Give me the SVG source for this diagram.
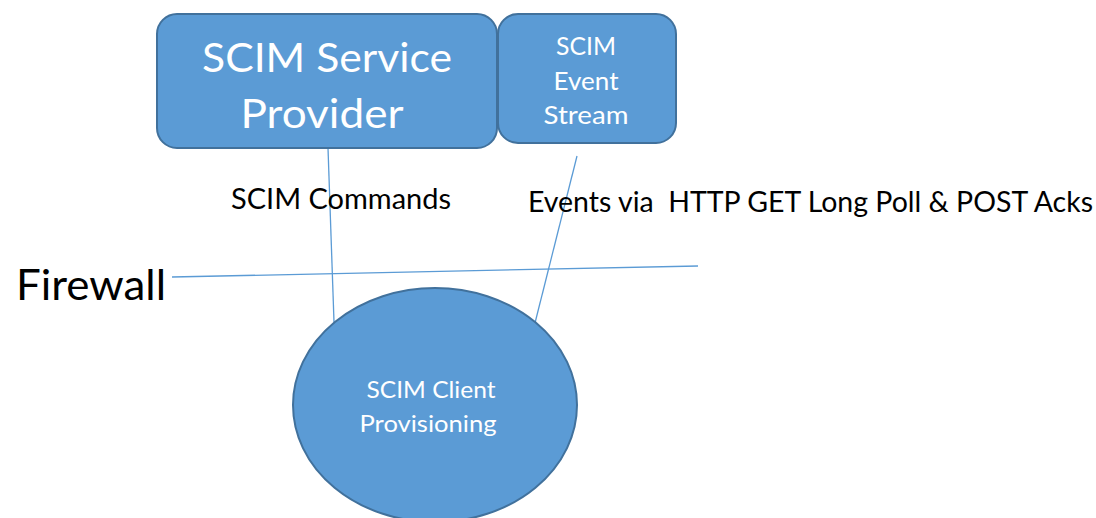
<svg xmlns="http://www.w3.org/2000/svg" width="1096" height="518" viewBox="0 0 1096 518">
<style>
.node{fill:#5B9BD5;stroke:#41719C;stroke-width:2}
.wt{fill:#FFFFFF;font-family:Lato,"Open Sans",sans-serif;text-anchor:middle}
.bt{fill:#000000;font-family:Lato,"Open Sans",sans-serif}
.conn{stroke:#5B9BD5;stroke-width:1.3;fill:none}
</style>
<rect width="1096" height="518" fill="#FFFFFF"/>
<g id="connectors">
<line class="conn" x1="328" y1="148" x2="334" y2="322"/>
<line class="conn" x1="577" y1="156" x2="535" y2="323"/>
<line class="conn" x1="172" y1="277" x2="698" y2="266"/>
</g>
<g id="service-provider">
<rect class="node" x="157" y="14" width="340" height="134" rx="20"/>
<text class="wt" x="327" y="72" font-size="41" textLength="250" lengthAdjust="spacingAndGlyphs">SCIM Service</text>
<text class="wt" x="322" y="128" font-size="41" textLength="163" lengthAdjust="spacingAndGlyphs">Provider</text>
</g>
<g id="event-stream">
<rect class="node" x="498" y="14" width="178" height="129" rx="20"/>
<text class="wt" x="586" y="55" font-size="25" textLength="60" lengthAdjust="spacingAndGlyphs">SCIM</text>
<text class="wt" x="586" y="90" font-size="25" textLength="65" lengthAdjust="spacingAndGlyphs">Event</text>
<text class="wt" x="586" y="124" font-size="25" textLength="85" lengthAdjust="spacingAndGlyphs">Stream</text>
</g>
<g id="client">
<ellipse class="node" cx="435" cy="405" rx="142" ry="117"/>
<text class="wt" x="431" y="398" font-size="24" textLength="129" lengthAdjust="spacingAndGlyphs">SCIM Client</text>
<text class="wt" x="428" y="432" font-size="24" textLength="137" lengthAdjust="spacingAndGlyphs">Provisioning</text>
</g>
<g id="labels">
<text class="bt" x="231" y="209" font-size="28" textLength="220" lengthAdjust="spacingAndGlyphs">SCIM Commands</text>
<text class="bt" x="528" y="212" font-size="28" xml:space="preserve" textLength="565" lengthAdjust="spacingAndGlyphs">Events via  HTTP GET Long Poll &amp; POST Acks</text>
<text class="bt" x="16" y="300" font-size="42" textLength="150" lengthAdjust="spacingAndGlyphs">Firewall</text>
</g>
</svg>
